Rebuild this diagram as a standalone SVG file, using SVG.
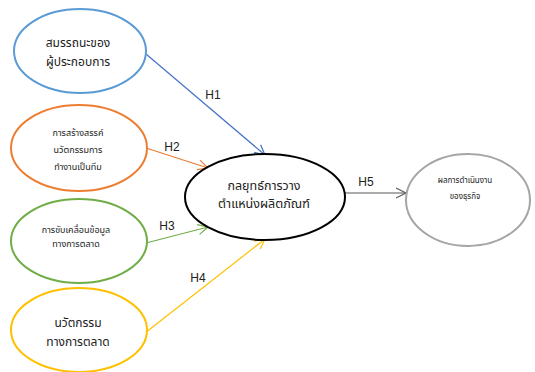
<svg xmlns="http://www.w3.org/2000/svg" width="535" height="372" viewBox="0 0 535 372">
<defs>
<style>
.n{fill:#fff;stroke-width:2}
.t{font-family:"Noto Sans Thai","Liberation Sans",sans-serif;fill:#222;text-anchor:middle}
.h{font-family:"Liberation Sans",Arial,sans-serif;font-size:12px;fill:#222;text-anchor:middle}
.c{fill:none;stroke-width:1.2}
.m{fill:none;stroke-width:1.2}
</style>
<marker id="aB" markerWidth="14" markerHeight="14" refX="11" refY="6" orient="auto" markerUnits="userSpaceOnUse"><path class="m" d="M1,1 L11,6 L1,11" stroke="#4472C4"/></marker>
<marker id="aO" markerWidth="14" markerHeight="14" refX="11" refY="6" orient="auto" markerUnits="userSpaceOnUse"><path class="m" d="M1,1 L11,6 L1,11" stroke="#ED7D31"/></marker>
<marker id="aG" markerWidth="14" markerHeight="14" refX="11" refY="6" orient="auto" markerUnits="userSpaceOnUse"><path class="m" d="M1,1 L11,6 L1,11" stroke="#70AD47"/></marker>
<marker id="aY" markerWidth="14" markerHeight="14" refX="11" refY="6" orient="auto" markerUnits="userSpaceOnUse"><path class="m" d="M1,1 L11,6 L1,11" stroke="#FFC000"/></marker>
<marker id="aK" markerWidth="14" markerHeight="14" refX="11" refY="6" orient="auto" markerUnits="userSpaceOnUse"><path class="m" d="M1,1 L11,6 L1,11" stroke="#595959" stroke-width="1.5"/></marker>
</defs>
<rect width="535" height="372" fill="#fff"/>
<g id="connectors">
<line class="c" x1="146" y1="54" x2="265" y2="155" stroke="#4472C4" marker-end="url(#aB)"/>
<line class="c" x1="146" y1="148" x2="208" y2="168" stroke="#ED7D31" marker-end="url(#aO)"/>
<line class="c" x1="146" y1="243" x2="208" y2="227" stroke="#70AD47" marker-end="url(#aG)"/>
<line class="c" x1="145" y1="333" x2="265" y2="239" stroke="#FFC000" marker-end="url(#aY)"/>
<line class="c" x1="345" y1="193" x2="406" y2="193" stroke="#595959" stroke-width="2" marker-end="url(#aK)"/>
<text class="h" x="213" y="99">H1</text>
<text class="h" x="172" y="151">H2</text>
<text class="h" x="167" y="230">H3</text>
<text class="h" x="198" y="282">H4</text>
<text class="h" x="366" y="186">H5</text>
</g>
<g id="n1">
<ellipse class="n" cx="80" cy="51" rx="66" ry="42" stroke="#5B9BD5"/>
<text class="t" font-size="12" x="78" y="47">สมรรถนะของ</text>
<text class="t" font-size="12" x="78" y="66">ผู้ประกอบการ</text>
</g>
<g id="n2">
<ellipse class="n" cx="79" cy="148" rx="68" ry="43" stroke="#ED7D31"/>
<text class="t" font-size="9" x="78" y="136">การสร้างสรรค์</text>
<text class="t" font-size="9" x="78" y="153">นวัตกรรมการ</text>
<text class="t" font-size="9" x="78" y="170">ทำงานเป็นทีม</text>
</g>
<g id="n3">
<ellipse class="n" cx="79" cy="241" rx="68" ry="42" stroke="#70AD47"/>
<text class="t" font-size="9" x="76" y="233">การขับเคลื่อนข้อมูล</text>
<text class="t" font-size="9" x="76" y="247">ทางการตลาด</text>
</g>
<g id="n4">
<ellipse class="n" cx="79" cy="330" rx="68" ry="42" stroke="#FFC000"/>
<text class="t" font-size="12" x="78" y="327">นวัตกรรม</text>
<text class="t" font-size="12" x="78" y="346">ทางการตลาด</text>
</g>
<g id="n5">
<ellipse class="n" cx="265" cy="197" rx="80" ry="43" stroke="#000"/>
<text class="t" font-size="12.5" x="264" y="190">กลยุทธ์การวาง</text>
<text class="t" font-size="12.5" x="264" y="208">ตำแหน่งผลิตภัณฑ์</text>
</g>
<g id="n6">
<ellipse class="n" cx="468" cy="200" rx="62" ry="46" stroke="#A5A5A5"/>
<text class="t" font-size="8" x="465" y="183">ผลการดำเนินงาน</text>
<text class="t" font-size="8" x="465" y="199">ของธุรกิจ</text>
</g>
</svg>
